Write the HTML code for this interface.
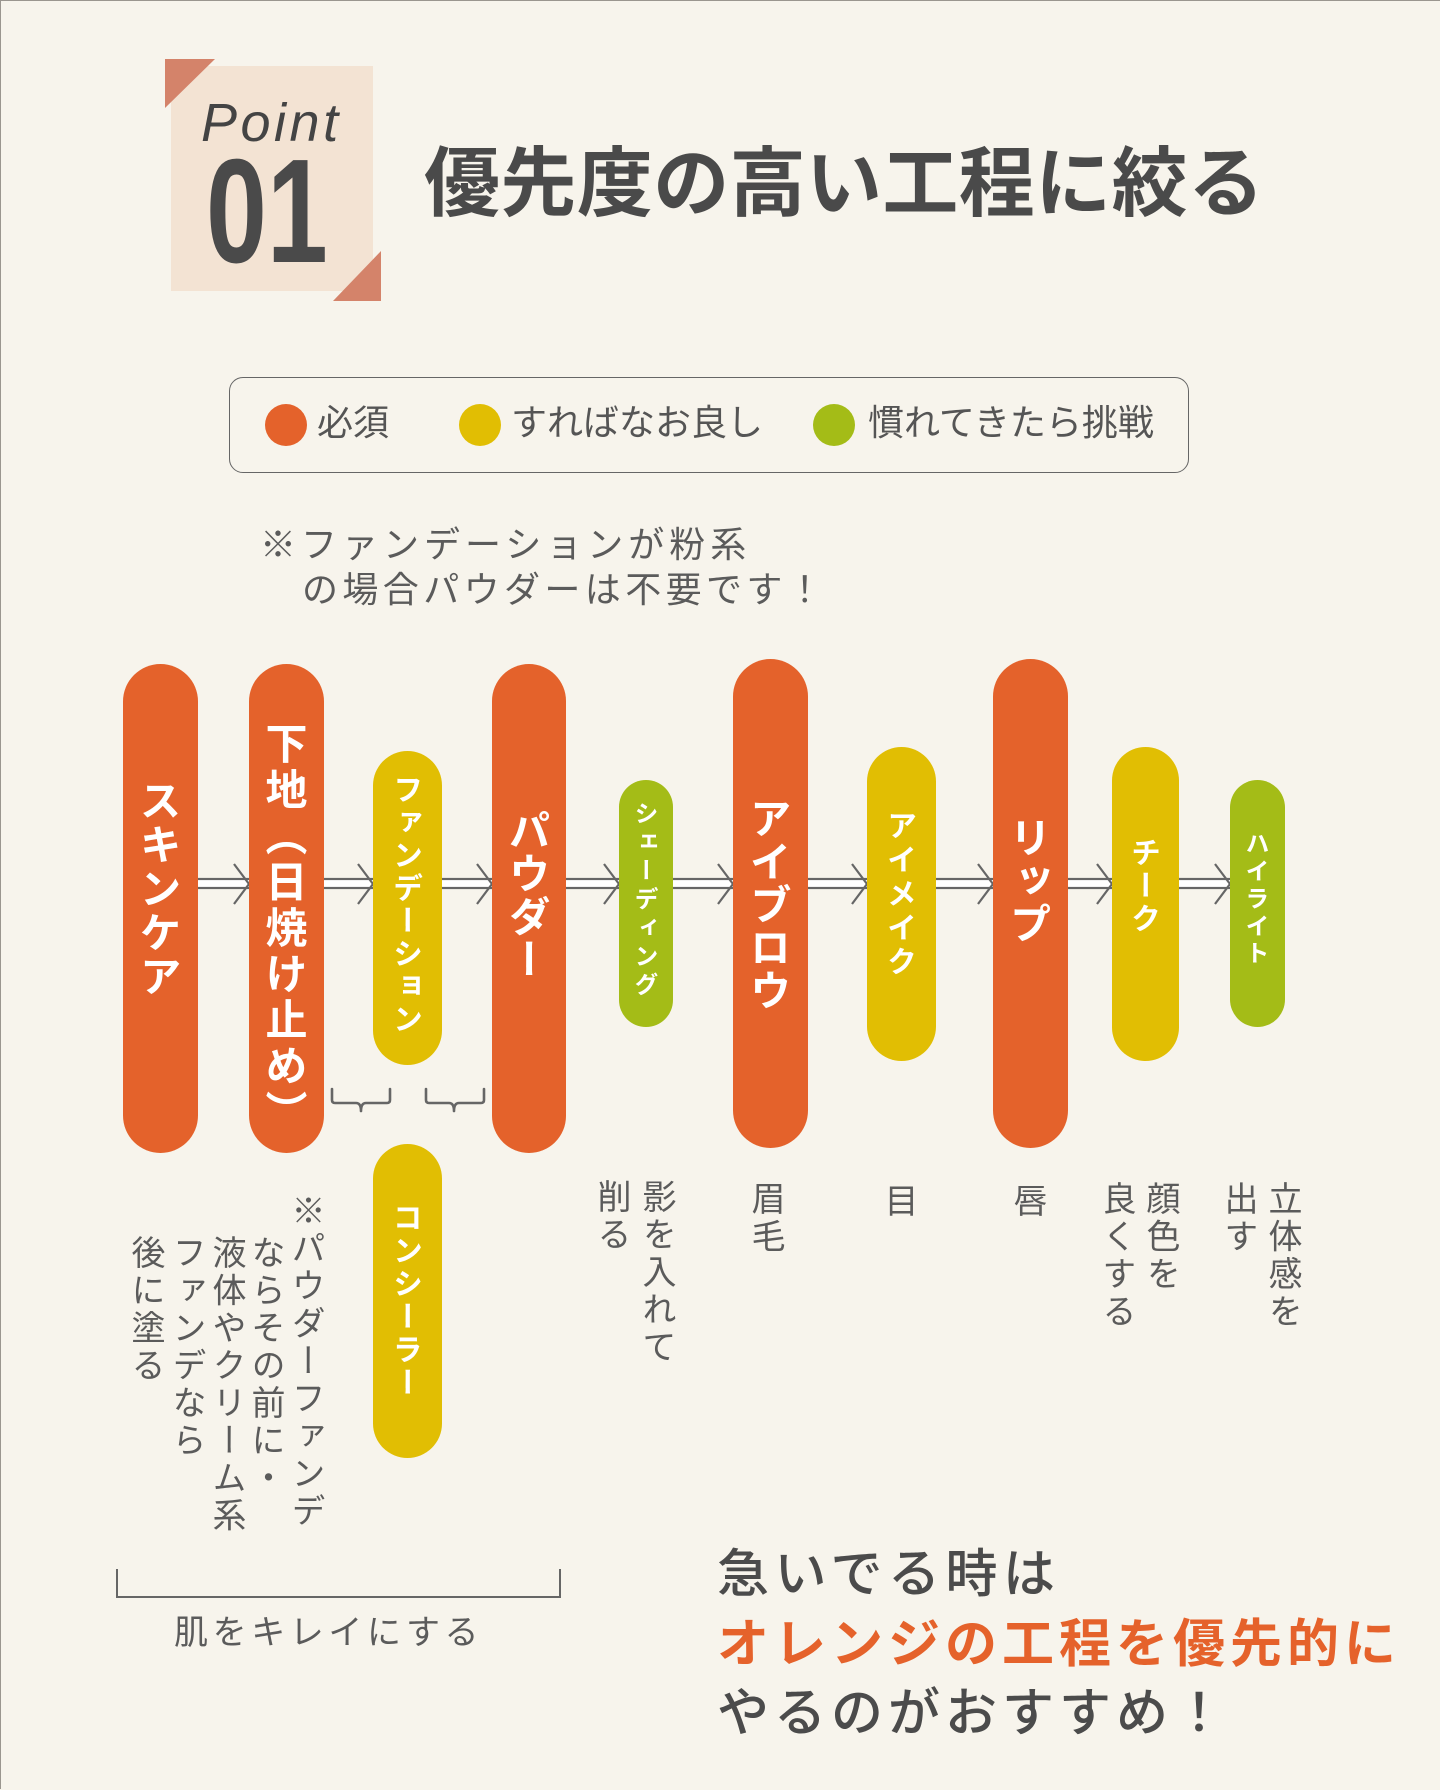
<!DOCTYPE html>
<html lang="ja">
<head>
<meta charset="utf-8">
<style>
  html, body { margin:0; padding:0; }
  body {
    width:1440px; height:1789px; position:relative; overflow:hidden;
    background:#f7f4ec;
    font-family:"Liberation Sans","Noto Sans CJK JP",sans-serif;
    border-top:1px solid #9a968f; border-left:1px solid #9a968f; box-sizing:border-box;
  }
  .abs { position:absolute; white-space:nowrap; }
  .jp { font-family:"Liberation Sans","Noto Sans CJK JP",sans-serif; }
  .pill { position:absolute; border-radius:999px; }
  .o { background:#e4622b; }
  .y { background:#e1be03; }
  .g { background:#a4bc17; }
  .vt { position:absolute; writing-mode:vertical-rl; text-orientation:mixed; white-space:nowrap;
        color:#fff; font-weight:700; text-align:start; font-family:"Noto Sans CJK JP",sans-serif; }
  .vd { position:absolute; writing-mode:vertical-rl; white-space:nowrap; color:#5b5b5b;
        font-size:34px; letter-spacing:3.5px; width:40px; line-height:40px;
        font-family:"Noto Sans CJK JP",sans-serif; }
</style>
</head>
<body>

<!-- Point box -->
<svg class="abs" style="left:0;top:0" width="1440" height="320">
  <rect x="170" y="65" width="202" height="225" fill="#f3e3d3"/>
  <polygon points="164,58 214,58 164,107" fill="#d4836a"/>
  <polygon points="380,300 332,300 380,250" fill="#d4836a"/>
</svg>
<div class="abs" style="left:200px;top:95px;font-family:'Liberation Sans',sans-serif;font-style:italic;font-size:54px;line-height:54px;letter-spacing:3.5px;color:#444;">Point</div>
<div class="abs" style="left:205px;top:137px;font-family:'Liberation Sans',sans-serif;font-weight:700;font-size:148px;line-height:148px;color:#4a4a4a;transform:scaleX(0.74);transform-origin:0 0;">01</div>

<!-- Title -->
<div class="abs jp" style="left:423px;top:146px;font-size:76px;line-height:76px;font-weight:700;color:#4a4a4a;letter-spacing:0.4px;">優先度の高い工程に絞る</div>

<!-- Legend -->
<div class="abs" style="left:228px;top:376px;width:958px;height:94px;border:1.6px solid #666;border-radius:14px;"></div>
<div class="abs" style="left:264px;top:403px;width:42px;height:42px;border-radius:50%;background:#e4622b;"></div>
<div class="abs jp" style="left:316px;top:404px;font-size:36px;line-height:36px;color:#555;">必須</div>
<div class="abs" style="left:458px;top:403px;width:42px;height:42px;border-radius:50%;background:#e1be03;"></div>
<div class="abs jp" style="left:510px;top:404px;font-size:36px;line-height:36px;color:#555;">すればなお良し</div>
<div class="abs" style="left:812px;top:403px;width:42px;height:42px;border-radius:50%;background:#a4bc17;"></div>
<div class="abs jp" style="left:867px;top:404px;font-size:36px;line-height:36px;color:#555;">慣れてきたら挑戦</div>

<!-- Note -->
<div class="abs jp" style="left:259px;top:526px;font-size:36px;line-height:36px;letter-spacing:5px;color:#5b5b5b;">※ファンデーションが粉系</div>
<div class="abs jp" style="left:301px;top:571px;font-size:36px;line-height:36px;letter-spacing:4.4px;color:#5b5b5b;">の場合パウダーは不要です！</div>

<!-- Arrows, braces, bracket -->
<svg class="abs" style="left:0;top:0" width="1440" height="1789">
  <rect x="190" y="878" width="1045" height="9" fill="#ffffff" stroke="#666" stroke-width="2.2"/>
  <g fill="none" stroke="#666" stroke-width="2.2" stroke-linejoin="miter">
    <polyline points="233,863 248,883 233,903"/>
    <polyline points="357,863 372,883 357,903"/>
    <polyline points="476,863 491,883 476,903"/>
    <polyline points="603,863 618,883 603,903"/>
    <polyline points="717,863 732,883 717,903"/>
    <polyline points="851,863 866,883 851,903"/>
    <polyline points="977,863 992,883 977,903"/>
    <polyline points="1096,863 1111,883 1096,903"/>
    <polyline points="1214,863 1229,883 1214,903"/>
  </g>
  <g fill="none" stroke="#666" stroke-width="2.6" stroke-linecap="round" stroke-linejoin="round">
    <path d="M331,1088 L331,1099 Q331,1102 334,1102 L355,1102 Q360,1102 360,1110 Q360,1102 365,1102 L386,1102 Q389,1102 389,1099 L389,1088"/>
    <path d="M425,1088 L425,1099 Q425,1102 428,1102 L448,1102 Q453,1102 453,1110 Q453,1102 458,1102 L480,1102 Q483,1102 483,1099 L483,1088"/>
  </g>
  <path d="M116,1568 L116,1596 L559,1596 L559,1568" fill="none" stroke="#666" stroke-width="2"/>
</svg>

<!-- Pills -->
<div class="pill o" style="left:122px;top:663px;width:75px;height:489px;"></div>
<div class="vt" style="left:122px;width:75px;line-height:75px;top:778px;font-size:42px;letter-spacing:2px;">スキンケア</div>

<div class="pill o" style="left:248px;top:663px;width:75px;height:489px;"></div>
<div class="vt" style="left:248px;width:75px;line-height:75px;top:721px;font-size:42px;letter-spacing:4px;">下地（日焼け止め）</div>

<div class="pill y" style="left:372px;top:750px;width:69px;height:314px;"></div>
<div class="vt" style="left:372px;width:69px;line-height:69px;top:773px;font-size:30px;letter-spacing:2.8px;">ファンデーション</div>

<div class="pill o" style="left:491px;top:663px;width:74px;height:489px;"></div>
<div class="vt" style="left:491px;width:74px;line-height:74px;top:808px;font-size:42px;letter-spacing:1px;">パウダー</div>

<div class="pill g" style="left:618px;top:779px;width:54px;height:247px;"></div>
<div class="vt" style="left:618px;width:54px;line-height:54px;top:800px;font-size:24px;letter-spacing:4.5px;">シェーディング</div>

<div class="pill o" style="left:732px;top:658px;width:75px;height:489px;"></div>
<div class="vt" style="left:732px;width:75px;line-height:75px;top:796px;font-size:42px;letter-spacing:1px;">アイブロウ</div>

<div class="pill y" style="left:866px;top:746px;width:69px;height:314px;"></div>
<div class="vt" style="left:866px;width:69px;line-height:69px;top:809px;font-size:30px;letter-spacing:4px;">アイメイク</div>

<div class="pill o" style="left:992px;top:658px;width:75px;height:489px;"></div>
<div class="vt" style="left:992px;width:75px;line-height:75px;top:815px;font-size:42px;letter-spacing:1px;">リップ</div>

<div class="pill y" style="left:1111px;top:746px;width:67px;height:314px;"></div>
<div class="vt" style="left:1111px;width:67px;line-height:67px;top:836px;font-size:30px;letter-spacing:3px;">チーク</div>

<div class="pill g" style="left:1229px;top:779px;width:55px;height:247px;"></div>
<div class="vt" style="left:1229px;width:55px;line-height:55px;top:830px;font-size:24px;letter-spacing:3.4px;">ハイライト</div>

<div class="pill y" style="left:372px;top:1143px;width:69px;height:314px;"></div>
<div class="vt" style="left:372px;width:69px;line-height:69px;top:1201px;font-size:30px;letter-spacing:3px;">コンシーラー</div>

<!-- Vertical descriptions -->
<div class="vd" style="left:287px;top:1192px;">※パウダーファンデ</div>
<div class="vd" style="left:247px;top:1234px;">ならその前に・</div>
<div class="vd" style="left:208px;top:1234px;">液体やクリーム系</div>
<div class="vd" style="left:168px;top:1234px;">ファンデなら</div>
<div class="vd" style="left:127px;top:1234px;">後に塗る</div>

<div class="vd" style="left:638px;top:1178px;">影を入れて</div>
<div class="vd" style="left:593px;top:1178px;">削る</div>
<div class="vd" style="left:747px;top:1180px;">眉毛</div>
<div class="vd" style="left:880px;top:1182px;">目</div>
<div class="vd" style="left:1009px;top:1182px;">唇</div>
<div class="vd" style="left:1142px;top:1180px;">顔色を</div>
<div class="vd" style="left:1098px;top:1180px;">良くする</div>
<div class="vd" style="left:1264px;top:1180px;">立体感を</div>
<div class="vd" style="left:1220px;top:1180px;">出す</div>

<!-- Bracket label -->
<div class="abs jp" style="left:173px;top:1615px;font-size:34px;line-height:34px;letter-spacing:4.6px;color:#5b5b5b;">肌をキレイにする</div>

<!-- Bottom message -->
<div class="abs jp" style="left:716px;top:1548px;font-size:52px;line-height:52px;letter-spacing:5.5px;color:#4b4b4b;font-weight:500;">急いでる時は</div>
<div class="abs jp" style="left:716px;top:1618px;font-size:52px;line-height:52px;letter-spacing:5px;color:#e5622b;font-weight:700;">オレンジの工程を優先的に</div>
<div class="abs jp" style="left:716px;top:1687px;font-size:52px;line-height:52px;letter-spacing:5px;color:#4b4b4b;font-weight:500;">やるのがおすすめ！</div>

</body>
</html>
